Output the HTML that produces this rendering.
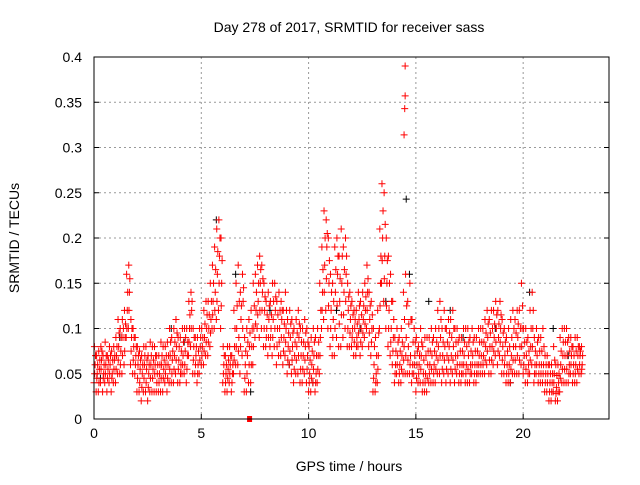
<!DOCTYPE html>
<html><head><meta charset="utf-8"><style>
html,body{margin:0;padding:0;background:#fff}
svg text{font-family:"Liberation Sans",sans-serif;font-size:14px;fill:#000}
</style></head><body>
<svg id="chart" width="640" height="480" xmlns="http://www.w3.org/2000/svg">
<text x="349" y="32" text-anchor="middle">Day 278 of 2017, SRMTID for receiver sass</text>
<text x="349" y="471" text-anchor="middle">GPS time / hours</text>
<text transform="translate(19,238) rotate(-90)" text-anchor="middle">SRMTID / TECUs</text>
<g id="grid"></g>
<g id="ticks"></g>
<g id="marks"></g>
<rect x="94" y="57" width="515" height="362" fill="none" stroke="#000" stroke-width="1"/>
</svg>
<script>
const xTicks=[0,5,10,15,20];
const yTicks=[0,0.05,0.1,0.15,0.2,0.25,0.3,0.35,0.4];
const yTickLabels=["0","0.05","0.1","0.15","0.2","0.25","0.3","0.35","0.4"];
const stepHours=0.1;
const lowVals=[.04,.03,.03,.04,.03,.04,.03,.04,.03,.04, .04,.05,.05,.05,.06,.09,.10,.06,.05,.05, .03,.03,.02,.03,.03,.02,.03,.03,.03,.03, .03,.03,.03,.04,.03,.04,.04,.04,.05,.04, .04,.05,.05,.04,.07,.08,.05,.05,.04,.05, .06,.06,.07,.07,.08,.1,.1,.11,.12,.1, .04,.03,.03,.04,.03,.05,.06,.06,.05,.07, .03,.03,.04,.04,.06,.09,.1,.09,.1,.08, .08,.07,.08,.07,.08,.06,.07,.07,.06,.07, .05,.06,.05,.04,.05,.05,.04,.04,.05,.04, .03,.03,.04,.03,.04,.05,.1,.11,.12,.1, .08,.07,.07,.09,.08,.08,.09,.1,.08,.08, .08,.07,.07,.08,.07,.08,.09,.1,.08,.07, .03,.03,.04,.1,.15,.13,.1,.08,.07,.06, .04,.05,.04,.04,.05,.05,.05,.05,.04,.05, .03,.04,.04,.03,.03,.03,.04,.04,.04,.04, .05,.05,.04,.05,.04,.05,.04,.05,.04,.05, .04,.04,.05,.04,.04,.04,.05,.04,.04,.05, .05,.05,.05,.06,.05,.05,.06,.07,.06,.07, .05,.05,.04,.04,.04,.05,.05,.05,.05,.06, .05,.04,.04,.05,.06,.04,.05,.04,.04,.04, .03,.03,.02,.02,.03,.02,.02,.03,.04,.04, .04,.04,.05,.04,.04,.04,.05,.05];
const lowMidVals=[.05,.045,.04,.055,.045,.05,.045,.05,.045,.055, .055,.065,.06,.07,.075,.1,.12,.075,.065,.06, .045,.04,.035,.045,.04,.035,.045,.045,.05,.04, .04,.045,.045,.05,.045,.055,.05,.055,.065,.055, .05,.06,.06,.055,.085,.1,.065,.06,.05,.065, .07,.075,.085,.085,.095,.115,.12,.13,.15,.125, .05,.04,.045,.05,.04,.065,.08,.075,.08,.1, .045,.05,.06,.06,.08,.105,.115,.12,.12,.1, .09,.09,.09,.09,.1,.08,.085,.09,.075,.085, .065,.075,.065,.055,.065,.07,.055,.055,.065,.055, .04,.045,.055,.04,.055,.07,.12,.14,.155,.125, .1,.09,.1,.125,.105,.115,.115,.13,.1,.095, .09,.085,.08,.095,.085,.095,.105,.12,.095,.085, .045,.04,.055,.125,.175,.155,.125,.1,.085,.075, .05,.06,.05,.055,.065,.07,.065,.06,.05,.06, .045,.05,.055,.04,.04,.045,.05,.055,.05,.055, .065,.07,.055,.065,.055,.065,.055,.065,.055,.06, .05,.05,.06,.05,.055,.05,.06,.05,.05,.06, .06,.06,.065,.075,.065,.065,.075,.085,.075,.085, .065,.06,.05,.05,.055,.065,.065,.07,.065,.08, .06,.055,.05,.065,.08,.05,.06,.05,.05,.05, .04,.04,.03,.03,.04,.028,.03,.045,.055,.055, .055,.05,.06,.05,.05,.055,.06,.055];
const midVals=[.06,.05,.055,.065,.05,.06,.055,.06,.05,.065, .07,.08,.075,.09,.09,.12,.14,.09,.08,.07, .06,.055,.05,.06,.055,.05,.06,.055,.06,.05, .05,.06,.055,.06,.06,.07,.065,.07,.08,.065, .06,.07,.075,.07,.1,.12,.08,.07,.06,.08, .08,.09,.1,.1,.11,.13,.14,.16,.18,.15, .06,.05,.055,.06,.05,.08,.1,.09,.11,.13, .06,.07,.08,.08,.1,.12,.13,.15,.14,.12, .1,.11,.1,.11,.12,.1,.1,.11,.09,.1, .08,.09,.08,.07,.08,.09,.07,.07,.08,.07, .05,.06,.07,.05,.07,.09,.14,.17,.19,.15, .12,.11,.14,.16,.13,.15,.14,.16,.12,.11, .1,.1,.09,.11,.1,.11,.12,.14,.11,.1, .06,.05,.07,.15,.2,.18,.15,.12,.1,.09, .06,.07,.06,.07,.08,.09,.08,.07,.06,.07, .06,.06,.07,.05,.05,.06,.06,.07,.06,.07, .08,.09,.07,.08,.07,.08,.07,.08,.07,.07, .06,.06,.07,.06,.07,.06,.07,.06,.06,.07, .07,.07,.08,.09,.08,.08,.09,.1,.09,.1, .08,.07,.06,.06,.07,.08,.08,.09,.08,.1, .07,.07,.06,.08,.1,.06,.07,.06,.06,.06, .05,.05,.04,.04,.05,.035,.04,.06,.07,.07, .07,.06,.07,.06,.06,.07,.07,.06];
const midHighVals=[.07,.06,.065,.075,.06,.07,.065,.07,.065,.07, .08,.095,.09,.1,.105,.14,.155,.1,.09,.08, .07,.065,.06,.07,.065,.06,.07,.065,.07,.06, .06,.07,.065,.07,.07,.085,.075,.085,.095,.08, .075,.085,.09,.085,.115,.13,.09,.08,.075,.09, .09,.105,.115,.115,.13,.15,.165,.185,.2,.175, .07,.06,.065,.07,.06,.1,.125,.13,.125,.145, .075,.085,.095,.1,.125,.14,.15,.165,.155,.135, .115,.125,.115,.13,.135,.115,.12,.12,.105,.12, .095,.105,.095,.085,.095,.105,.085,.085,.095,.085, .065,.075,.085,.07,.085,.12,.165,.2,.205,.175, .14,.13,.165,.18,.155,.18,.165,.18,.135,.125, .115,.11,.105,.125,.115,.125,.135,.155,.125,.115, .08,.07,.095,.18,.23,.215,.175,.15,.13,.11, .075,.085,.075,.085,.11,.125,.105,.11,.085,.085, .075,.07,.085,.065,.07,.075,.075,.085,.075,.085, .1,.11,.085,.1,.085,.095,.09,.1,.085,.085, .075,.075,.085,.08,.085,.075,.085,.075,.075,.085, .085,.085,.095,.105,.095,.1,.105,.115,.105,.115, .095,.085,.075,.08,.09,.1,.095,.105,.1,.125, .085,.085,.075,.1,.12,.075,.085,.075,.075,.08, .06,.06,.05,.05,.065,.048,.05,.075,.085,.085, .085,.075,.08,.07,.075,.08,.075,.07];
const highVals=[.08,.07,.075,.08,.07,.085,.07,.08,.075,.08, .09,.11,.1,.11,.12,.16,.17,.11,.1,.09, .08,.075,.07,.08,.08,.07,.085,.08,.08,.07, .07,.085,.08,.08,.085,.1,.09,.1,.11,.09, .09,.1,.1,.1,.13,.14,.1,.09,.09,.1, .1,.12,.13,.13,.15,.17,.19,.21,.22,.2, .08,.07,.08,.08,.07,.12,.15,.17,.14,.16, .09,.1,.11,.12,.15,.16,.17,.18,.17,.15, .13,.14,.13,.15,.15,.13,.14,.13,.12,.14, .11,.12,.11,.1,.11,.12,.1,.1,.11,.1, .08,.09,.1,.09,.1,.15,.19,.23,.22,.2, .16,.15,.19,.2,.18,.21,.19,.2,.15,.14, .13,.12,.12,.14,.13,.14,.15,.17,.14,.13, .1,.09,.12,.21,.26,.25,.2,.18,.16,.13, .09,.1,.09,.1,.14,.16,.13,.15,.11,.1, .09,.08,.1,.08,.09,.09,.09,.1,.09,.1, .12,.13,.1,.12,.1,.11,.11,.12,.1,.1, .09,.09,.1,.1,.1,.09,.1,.09,.09,.1, .1,.1,.11,.12,.11,.12,.12,.13,.12,.13, .11,.1,.09,.1,.11,.12,.11,.12,.12,.15, .1,.1,.09,.12,.14,.09,.1,.09,.09,.1, .07,.07,.06,.06,.08,.06,.06,.09,.1,.1, .1,.09,.09,.08,.09,.09,.08,.08];
const spikeHours=[14.5,14.5,14.48,14.45];
const spikeVals=[0.39,0.357,0.343,0.314];
const blackHours=[0.3,1.2,3.6,4.2,5.7,6.6,7.3,8.2,9.1,10.2,11.3,12.4,13.6,14.55,14.7,15.6,16.6,17.2,18.7,19.4,20.3,21.4,22.1];
const blackVals=[0.045,0.09,0.1,0.085,0.22,0.16,0.03,0.12,0.06,0.04,0.12,0.1,0.13,0.243,0.16,0.13,0.12,0.09,0.1,0.04,0.14,0.1,0.07];
const zeroHours=[7.25];
const zeroVals=[0.0];

const NS="http://www.w3.org/2000/svg";
const X0=94,X1=609,Y0=419,Y1=57;
function xs(h){return X0+(h/24)*(X1-X0);}
function ys(v){return Y0-(v/0.4)*(Y0-Y1);}
const grid=document.getElementById('grid'),ticks=document.getElementById('ticks'),marks=document.getElementById('marks');
function mk(tag,attrs,parent){const e=document.createElementNS(NS,tag);for(const k in attrs)e.setAttribute(k,attrs[k]);parent.appendChild(e);return e;}
xTicks.forEach(t=>{const x=xs(t);
 if(t>0){const g=mk('line',{x1:x,x2:x,y1:Y1,y2:Y0,stroke:'#999','stroke-dasharray':'2,3'},grid);
 
 }
 const tk=mk('line',{x1:x,x2:x,y1:Y0,y2:Y0-5,stroke:'#000'},ticks);
 
 
 const tx=mk('text',{x:x,y:Y0+19,'text-anchor':'middle'},ticks);tx.textContent=String(t);
 
 
});
yTicks.forEach((t,i)=>{const y=ys(t);
 if(t>0&&t<0.4){const g=mk('line',{x1:X0,x2:X1,y1:y,y2:y,stroke:'#999','stroke-dasharray':'2,3'},grid);
 
 }
 const tk=mk('line',{x1:X0,x2:X0+5,y1:y,y2:y,stroke:'#000'},ticks);
 
 
 const tk2=mk('line',{x1:X1,x2:X1-5,y1:y,y2:y,stroke:'#000'},ticks);
 
 
 const tx=mk('text',{x:X0-12,y:y+5,'text-anchor':'end'},ticks);tx.textContent=yTickLabels[i];
 
 
});
function plus(h,v,color,name){const x=xs(h),y=ys(v);
 const p=mk('path',{d:`M${x-3.5},${y}h7M${x},${y-3.5}v7`,stroke:color,'stroke-width':1,fill:'none'},marks);
 
 }
blackHours.forEach((h,i)=>plus(h,blackVals[i],'#000','black-point'));
lowVals.forEach((v,i)=>plus(i*stepHours,v,'#f00','red-point'));
lowMidVals.forEach((v,i)=>plus(i*stepHours+0.03,v,'#f00','red-point'));
midVals.forEach((v,i)=>plus(i*stepHours+0.05,v,'#f00','red-point'));
midHighVals.forEach((v,i)=>plus(i*stepHours+0.07,v,'#f00','red-point'));
highVals.forEach((v,i)=>plus(i*stepHours+0.02,v,'#f00','red-point'));
spikeHours.forEach((h,i)=>plus(h,spikeVals[i],'#f00','red-spike-point'));
zeroHours.forEach((h,i)=>{const r=mk('rect',{x:xs(h)-2.5,y:ys(zeroVals[i])-3,width:5,height:6,fill:'#f00'},marks);
 
 });
</script>
</body></html>
